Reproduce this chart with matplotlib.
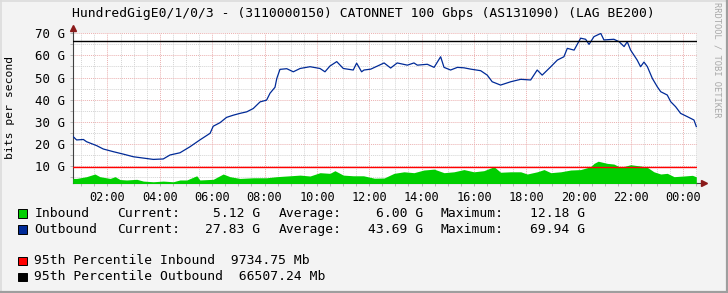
import matplotlib
matplotlib.use("Agg")
import matplotlib.pyplot as plt
from matplotlib.patches import Rectangle
from matplotlib.lines import Line2D
from matplotlib.ticker import MultipleLocator, FuncFormatter

W, H = 728, 293

title = "HundredGigE0/1/0/3 - (3110000150) CATONNET 100 Gbps (AS131090) (LAG BE200)"
y_label = "bits per second"
watermark = "RRDTOOL / TOBI OETIKER"

# hours since midnight of day 1 (24 = next midnight)
out_hours = [0.67, 0.82, 1.08, 1.20, 1.59, 1.84, 2.22, 2.60, 2.99, 3.37, 3.75, 4.13, 4.39, 4.77,
             5.15, 5.53, 5.92, 6.04, 6.30, 6.55, 6.81, 7.06, 7.32, 7.57, 7.83, 8.08, 8.21, 8.40,
             8.47, 8.59, 8.85, 9.10, 9.36, 9.74, 10.12, 10.31, 10.50, 10.76, 11.01, 11.39, 11.52,
             11.71, 11.80, 12.06, 12.57, 12.82, 13.07, 13.46, 13.71, 13.84, 14.22, 14.48, 14.73,
             14.86, 15.11, 15.37, 15.62, 15.88, 16.26, 16.51, 16.70, 17.02, 17.41, 17.79, 18.17,
             18.42, 18.61, 18.94, 19.19, 19.44, 19.57, 19.83, 20.08, 20.27, 20.40, 20.59, 20.85,
             20.97, 21.35, 21.55, 21.74, 21.86, 21.99, 22.24, 22.37, 22.50, 22.63, 22.82, 23.01,
             23.14, 23.39, 23.52, 23.71, 23.90, 24.16, 24.41, 24.50]
out_vals = [23.5, 21.8, 22.0, 21.0, 19.2, 17.7, 16.5, 15.4, 14.2, 13.6, 13.0, 13.2, 15.0, 16.0,
            18.7, 21.8, 24.8, 28.0, 29.6, 32.0, 33.0, 33.8, 34.5, 36.0, 39.0, 39.8, 42.9, 45.6,
            49.6, 53.7, 54.0, 52.6, 54.1, 54.9, 54.1, 52.6, 55.2, 57.2, 54.1, 53.4, 56.5, 52.6,
            53.4, 53.8, 56.6, 54.3, 56.6, 55.6, 56.6, 55.6, 56.0, 54.6, 59.4, 54.6, 53.4, 54.6,
            54.4, 53.8, 53.1, 51.1, 48.1, 46.6, 48.1, 49.2, 48.9, 53.4, 51.1, 54.9, 57.9, 59.4,
            63.2, 62.4, 67.8, 67.3, 65.0, 68.5, 69.94, 67.0, 67.3, 66.2, 64.0, 66.2, 62.4, 57.9,
            54.9, 57.0, 54.9, 49.6, 45.8, 43.6, 42.1, 39.1, 36.8, 33.8, 32.3, 30.8, 27.83]

in_hours = [0.67, 0.82, 1.20, 1.52, 1.71, 2.10, 2.29, 2.48, 2.73, 3.12, 3.37, 3.75, 4.13, 4.51,
            4.77, 5.03, 5.41, 5.53, 6.04, 6.42, 6.68, 7.06, 7.57, 8.08, 8.47, 8.85, 9.36, 9.74,
            10.12, 10.50, 10.69, 11.01, 11.39, 11.78, 12.20, 12.57, 12.95, 13.33, 13.71, 14.09,
            14.48, 14.86, 15.24, 15.62, 16.00, 16.38, 16.77, 17.02, 17.41, 17.79, 18.04, 18.42,
            18.68, 18.94, 19.32, 19.70, 20.08, 20.46, 20.59, 20.75, 20.85, 21.10, 21.35, 21.61,
            21.99, 22.37, 22.63, 22.88, 23.14, 23.39, 23.65, 24.03, 24.35, 24.50]
in_vals = [4.4, 4.4, 5.2, 6.4, 5.2, 4.4, 5.2, 3.9, 3.7, 4.0, 3.2, 2.9, 3.2, 2.9, 3.7, 3.7, 5.6,
           3.7, 4.0, 6.4, 5.2, 4.4, 4.7, 4.7, 5.2, 5.5, 5.9, 5.5, 7.0, 6.7, 7.9, 5.9, 5.6, 5.6,
           4.5, 4.6, 6.7, 7.4, 7.0, 8.2, 8.6, 7.0, 7.4, 8.4, 7.4, 7.9, 9.7, 7.2, 7.4, 7.4, 6.4,
           7.4, 8.4, 7.0, 7.4, 8.2, 8.4, 9.7, 11.2, 12.18, 11.9, 11.2, 10.9, 9.4, 10.6, 10.0,
           9.4, 7.4, 6.4, 6.7, 5.2, 5.5, 5.8, 5.12]

p95_in = 9.73475
p95_out = 66.50724

legend_names = ["Inbound", "Outbound"]
legend_current = ["5.12 G", "27.83 G"]
legend_average = ["6.00 G", "43.69 G"]
legend_maximum = ["12.18 G", "69.94 G"]
pct_labels = ["95th Percentile Inbound  9734.75 Mb", "95th Percentile Outbound  66507.24 Mb"]

C_IN = "#00CF00"
C_OUT = "#002A97"
C_RED = "#FF0000"
C_BLK = "#000000"
BG = "#F3F3F3"
MONO = "DejaVu Sans Mono"
FS = 9.4


def fx(x):
    return x / W


def fy(y):
    return 1 - y / H


fig = plt.figure(figsize=(W / 100, H / 100), dpi=100, facecolor=BG)

# outer shading
fig.add_artist(Line2D([fx(0), fx(W)], [fy(0.5), fy(0.5)], color="#DCDCDC", lw=1.2))
fig.add_artist(Line2D([fx(0.5), fx(0.5)], [fy(0), fy(H)], color="#DCDCDC", lw=1.2))
fig.add_artist(Line2D([fx(0), fx(W)], [fy(H - 1), fy(H - 1)], color="#9E9E9E", lw=1.6))
fig.add_artist(Line2D([fx(W - 1), fx(W - 1)], [fy(0), fy(H)], color="#9E9E9E", lw=1.6))

left, right, top, bottom = 73, 697, 33.3, 183.3
ax = fig.add_axes([fx(left), fy(bottom), fx(right - left), (bottom - top) / H])
ax.set_facecolor("white")

ax.set_xlim(0.682, 24.526)
ax.set_ylim(2.2, 70)

ax.xaxis.set_major_locator(MultipleLocator(2))
ax.xaxis.set_minor_locator(MultipleLocator(0.5))
ax.yaxis.set_major_locator(MultipleLocator(10))
ax.yaxis.set_minor_locator(MultipleLocator(5))
ax.xaxis.set_major_formatter(FuncFormatter(lambda v, p: f"{int(round(v)) % 24:02d}:00"))
ax.yaxis.set_major_formatter(FuncFormatter(lambda v, p: f"{int(round(v))} G"))

ax.grid(which="minor", color="#D4D4D4", linestyle=(0, (1, 1)), lw=0.7)
ax.grid(which="major", color="#EBB0B0", linestyle=(0, (1, 1)), lw=0.7)
ax.set_axisbelow(True)

ax.tick_params(which="both", length=2, width=0.7, color="#B8B8B8")
ax.tick_params(axis="x", which="major", labelsize=8.6, pad=3.5)
ax.tick_params(axis="y", which="major", labelsize=9.0, pad=4)
for lab in ax.get_xticklabels() + ax.get_yticklabels():
    lab.set_fontfamily(MONO)

for s in ["top", "right"]:
    ax.spines[s].set_visible(False)
for s in ["left", "bottom"]:
    ax.spines[s].set_color("#404040")
    ax.spines[s].set_linewidth(0.8)

ax.fill_between(in_hours, 0, in_vals, color=C_IN, lw=0, zorder=3)
ax.plot(out_hours, out_vals, color=C_OUT, lw=0.9, zorder=4)
ax.axhline(p95_in, color=C_RED, lw=1.0, zorder=5)
ax.axhline(p95_out, color=C_BLK, lw=1.0, zorder=5)

# axis extensions and arrows
ax.plot([0, 0], [1, 1.035], transform=ax.transAxes, color="#404040", lw=0.8, clip_on=False)
ax.plot([0], [1.035], transform=ax.transAxes, marker="^", ms=4.5, color="#8B1A1A", clip_on=False)
ax.plot([1, 1.008], [0, 0], transform=ax.transAxes, color="#404040", lw=0.8, clip_on=False)
ax.plot([1.012], [0], transform=ax.transAxes, marker=">", ms=4.5, color="#8B1A1A", clip_on=False)

fig.text(fx(363.5), fy(13.5), title, ha="center", va="center", family=MONO, fontsize=FS)
fig.text(fx(10.5), fy(107), y_label, rotation=90, ha="center", va="center", family=MONO, fontsize=8.2)
fig.text(fx(717.5), fy(60), watermark, rotation=270, ha="center", va="center",
         family=MONO, fontsize=6.3, color="#A8A8A8")

# legend
rows = [213.3, 229.3]
for i, (name, col) in enumerate(zip(legend_names, [C_IN, C_OUT])):
    y = rows[i]
    fig.add_artist(Rectangle((fx(17.5), fy(y + 4.3)), 9.8 / W, 8.6 / H, facecolor=col,
                             edgecolor="black", lw=0.7))
    fig.text(fx(34.3), fy(y), name, ha="left", va="center", family=MONO, fontsize=FS)
    fig.text(fx(116.7), fy(y), "Current:", ha="left", va="center", family=MONO, fontsize=FS)
    fig.text(fx(260), fy(y), legend_current[i], ha="right", va="center", family=MONO, fontsize=FS)
    fig.text(fx(278.7), fy(y), "Average:", ha="left", va="center", family=MONO, fontsize=FS)
    fig.text(fx(423), fy(y), legend_average[i], ha="right", va="center", family=MONO, fontsize=FS)
    fig.text(fx(440.7), fy(y), "Maximum:", ha="left", va="center", family=MONO, fontsize=FS)
    fig.text(fx(585), fy(y), legend_maximum[i], ha="right", va="center", family=MONO, fontsize=FS)

rows2 = [261, 277]
for i, (lab, col) in enumerate(zip(pct_labels, [C_RED, C_BLK])):
    y = rows2[i]
    fig.add_artist(Rectangle((fx(17.5), fy(y + 4.3)), 9.8 / W, 8.6 / H, facecolor=col,
                             edgecolor="black", lw=0.7))
    fig.text(fx(34.3), fy(y), lab, ha="left", va="center", family=MONO, fontsize=FS)

fig.savefig("out.png", dpi=100, facecolor=BG)
